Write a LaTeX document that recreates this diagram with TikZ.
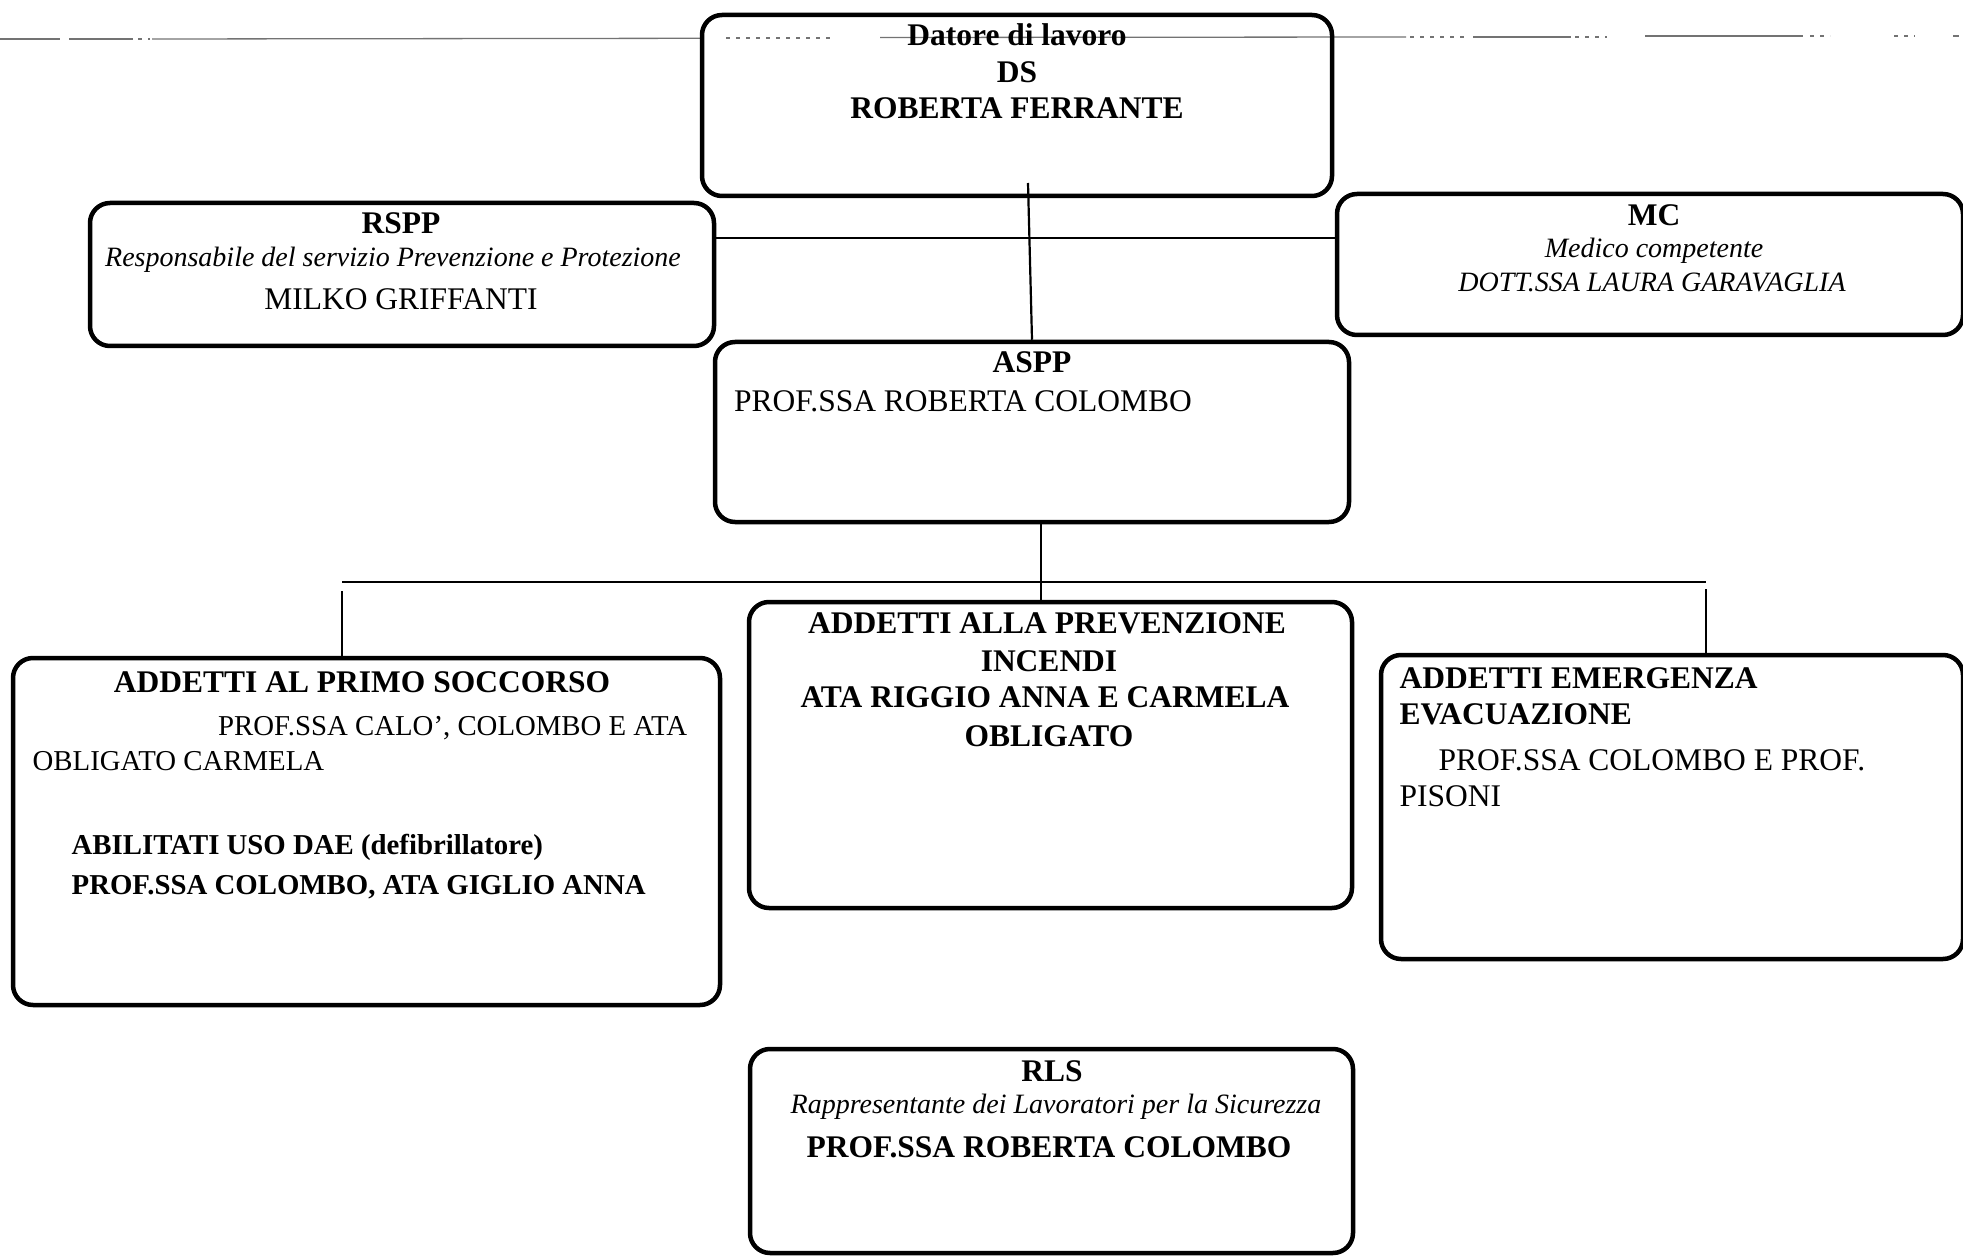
\documentclass[tikz,border=0pt]{standalone}
\usepackage{fontspec}
\setmainfont{Liberation Serif}
\begin{document}
\begin{tikzpicture}[x=1pt,y=-1pt]
\tikzset{
 bx/.style={draw=black, line width=4.5pt, rounded corners=20pt, inner sep=0pt},
 con/.style={draw=black, line width=2.2pt},
 topline/.style={draw=black!55, line width=1.3pt},
 topdots/.style={draw=black!55, line width=1.3pt, dash pattern=on 4pt off 6pt},
 tb/.style={inner sep=0pt, font=\fontsize{31.5}{37}\selectfont\bfseries},
 tr/.style={inner sep=0pt, font=\fontsize{31.5}{37}\selectfont},
 tbs/.style={inner sep=0pt, font=\fontsize{28.8}{34}\selectfont\bfseries},
 trs/.style={inner sep=0pt, font=\fontsize{28.8}{34}\selectfont},
 ti/.style={inner sep=0pt, font=\fontsize{28}{33}\selectfont\itshape},
}
\useasboundingbox (0,0) rectangle (1963,1257);

% thin scanned rule across the top
\draw[topline] (0,39) -- (60,39);
\draw[topline] (69,39) -- (133,39);
\draw[topdots] (138,39) -- (150,39);
\draw[topline] (152,39) -- (700,38.3);
\draw[topdots] (726,38) -- (832,38);
\draw[topline] (880,37.5) -- (1406,37);
\draw[topdots] (1410,37) -- (1468,37);
\draw[topline] (1473,37) -- (1571,37);
\draw[topdots] (1575,37) -- (1607,37);
\draw[topline] (1645,36) -- (1803,36);
\draw[topdots] (1810,36) -- (1830,36);
\draw[topdots] (1894,36) -- (1915,36);
\draw[topline] (1953,36) -- (1959,36);

% boxes
\node[bx, minimum width=630pt, minimum height=181pt] (ds)   at (1017,105.5) {};
\node[bx, minimum width=624pt, minimum height=143pt] (rspp) at (402,274.5) {};
\node[bx, minimum width=626pt, minimum height=141pt] (mc)   at (1650,264.5) {};
\node[bx, minimum width=634pt, minimum height=180pt] (aspp) at (1032,432) {};
\node[bx, minimum width=707pt, minimum height=347pt] (ps)   at (366.5,831.5) {};
\node[bx, minimum width=603pt, minimum height=306pt] (pi)   at (1050.5,755) {};
\node[bx, minimum width=582pt, minimum height=304pt] (em)   at (1672,807) {};
\node[bx, minimum width=603pt, minimum height=204pt] (rls)  at (1051.5,1151) {};

% connectors
\coordinate (dsin) at (1028,183);
\draw[con] (dsin) -- (aspp.north);
\coordinate (ylev) at (0,238);
\draw[con] (rspp.east |- ylev) -- (mc.west |- ylev);
\coordinate (vx) at (1041,0);
\draw[con] (aspp.south -| vx) -- (pi.north -| vx);
\coordinate (busL) at (342,582);
\coordinate (busR) at (1706,582);
\draw[con] (busL) -- (busR);
\coordinate (dl) at (342,591);
\coordinate (dr) at (1706,589);
\draw[con] (dl) -- (ps.north -| dl);
\draw[con] (dr) -- (em.north -| dr);

% DS
\node[tb, anchor=base] (ds1) at (1017,46) {Datore di lavoro};
\node[tb, anchor=base] (ds2) at (1017,83) {DS};
\node[tb, anchor=base] (ds3) at (1017,119) {ROBERTA FERRANTE};
% RSPP
\node[tb, anchor=base] (r1) at (401,234) {RSPP};
\node[ti, anchor=base] (r2) at (393,267) {Responsabile del servizio Prevenzione e Protezione};
\node[tr, anchor=base] (r3) at (401,310) {MILKO GRIFFANTI};
% MC
\node[tb, anchor=base] (m1) at (1654,226) {MC};
\node[ti, anchor=base] (m2) at (1654,258) {Medico competente};
\node[ti, anchor=base] (m3) at (1652,292) {DOTT.SSA LAURA GARAVAGLIA};
% ASPP
\node[tb, anchor=base] (a1) at (1032,373) {ASPP};
\node[tr, anchor=base west] (a2) at (734,411) {PROF.SSA ROBERTA COLOMBO};
% Primo soccorso
\node[tb, anchor=base] (p1) at (362,692) {ADDETTI AL PRIMO SOCCORSO};
\node[trs, anchor=base west] (p2) at (218,735) {PROF.SSA CALO’, COLOMBO E ATA};
\node[trs, anchor=base west] (p3) at (32.5,770) {OBLIGATO CARMELA};
\node[tbs, anchor=base west] (p4) at (71.5,854) {ABILITATI USO DAE (defibrillatore)};
\node[tbs, anchor=base west] (p5) at (71.5,894) {PROF.SSA COLOMBO, ATA GIGLIO ANNA};
% Prevenzione incendi
\node[tb, anchor=base] (i1) at (1047,633) {ADDETTI ALLA PREVENZIONE};
\node[tb, anchor=base] (i2) at (1049,671) {INCENDI};
\node[tb, anchor=base] (i3) at (1045,707) {ATA RIGGIO ANNA E CARMELA};
\node[tb, anchor=base] (i4) at (1049,746) {OBLIGATO};
% Emergenza
\node[tb, anchor=base west] (e1) at (1399.5,688) {ADDETTI EMERGENZA};
\node[tb, anchor=base west] (e2) at (1399.5,724) {EVACUAZIONE};
\node[tr, anchor=base west] (e3) at (1438.5,770) {PROF.SSA COLOMBO E PROF.};
\node[tr, anchor=base west] (e4) at (1399.5,806) {PISONI};
% RLS
\node[tb, anchor=base] (l1) at (1052,1081) {RLS};
\node[ti, anchor=base] (l2) at (1056,1113) {Rappresentante dei Lavoratori per la Sicurezza};
\node[tb, anchor=base] (l3) at (1049,1157) {PROF.SSA ROBERTA COLOMBO};
\end{tikzpicture}
\end{document}
